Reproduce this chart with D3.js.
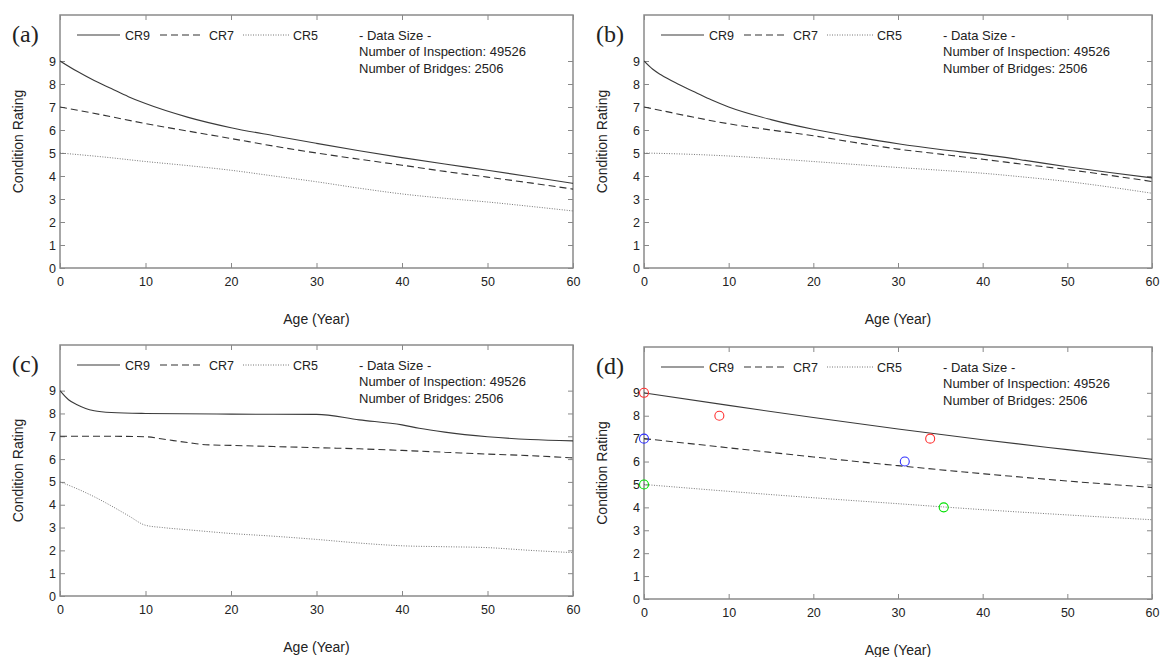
<!DOCTYPE html>
<html>
<head>
<meta charset="utf-8">
<script src="https://cdn.jsdelivr.net/npm/d3@7"></script>
<style>
  html, body { margin: 0; padding: 0; background: #fff; }
  svg { display: block; }
  text { font-family: "Liberation Sans", Arial, sans-serif; fill: #222; }
</style>
</head>
<body>
<svg id="chart" width="1161" height="657"></svg>
<script>
// ---------- Data ----------
const xTicks = [0, 10, 20, 30, 40, 50, 60];
const yTicks = [0, 1, 2, 3, 4, 5, 6, 7, 8, 9];
const seriesNames = ["CR9", "CR7", "CR5"];
const panelLabels = ["(a)", "(b)", "(c)", "(d)"];
const infoLines = ["- Data Size -", "Number of Inspection: 49526", "Number of Bridges: 2506"];

// Panel (a)
const ageA9 = [0, 2, 4, 6, 8, 10, 15, 20, 25, 30, 35, 40, 45, 50, 55, 60];
const crA9  = [9, 8.55, 8.15, 7.8, 7.45, 7.15, 6.55, 6.1, 5.75, 5.42, 5.1, 4.8, 4.52, 4.25, 3.97, 3.68];
const ageA7 = [0, 5, 10, 15, 20, 25, 30, 35, 40, 45, 50, 55, 60];
const crA7  = [7, 6.65, 6.28, 5.95, 5.63, 5.3, 5.0, 4.73, 4.47, 4.2, 3.95, 3.7, 3.43];
const ageA5 = [0, 5, 10, 15, 20, 25, 30, 35, 40, 45, 50, 55, 60];
const crA5  = [5, 4.83, 4.63, 4.45, 4.25, 4.0, 3.75, 3.47, 3.22, 3.03, 2.87, 2.68, 2.48];

// Panel (b)
const ageB9 = [0, 1, 2, 4, 6, 8, 10, 15, 20, 25, 30, 35, 40, 45, 50, 55, 60];
const crB9  = [9, 8.65, 8.4, 8.0, 7.65, 7.3, 7.0, 6.45, 6.03, 5.7, 5.4, 5.15, 4.94, 4.68, 4.4, 4.15, 3.92];
const ageB7 = [0, 2, 5, 10, 15, 20, 25, 30, 35, 40, 45, 50, 55, 60];
const crB7  = [7, 6.85, 6.62, 6.27, 6.0, 5.75, 5.45, 5.17, 4.95, 4.73, 4.5, 4.28, 4.03, 3.76];
const ageB5 = [0, 5, 10, 15, 20, 25, 30, 35, 40, 45, 50, 55, 60];
const crB5  = [5, 4.95, 4.87, 4.76, 4.63, 4.5, 4.37, 4.25, 4.12, 3.95, 3.76, 3.52, 3.25];

// Panel (c)
const ageC9 = [0, 1, 2, 3, 4, 6, 10, 20, 30, 35, 40, 42, 45, 50, 55, 60];
const crC9  = [9, 8.6, 8.38, 8.22, 8.12, 8.04, 8.0, 7.97, 7.96, 7.72, 7.5, 7.35, 7.18, 6.98, 6.86, 6.8];
const ageC7 = [0, 5, 10, 12, 15, 17, 20, 25, 30, 35, 40, 45, 50, 55, 60];
const crC7  = [7, 7, 6.98, 6.88, 6.72, 6.63, 6.6, 6.55, 6.5, 6.45, 6.38, 6.3, 6.22, 6.15, 6.05];
const ageC5 = [0, 2, 4, 6, 8, 10, 12, 15, 20, 25, 30, 35, 40, 45, 50, 55, 60];
const crC5  = [5, 4.7, 4.35, 3.95, 3.52, 3.1, 3.0, 2.9, 2.74, 2.62, 2.48, 2.32, 2.2, 2.16, 2.12, 2.0, 1.9];

// Panel (d)
const ageD  = [0, 10, 20, 30, 40, 50, 60];
const crD9  = [9, 8.45, 7.92, 7.42, 6.95, 6.52, 6.1];
const crD7  = [7, 6.6, 6.2, 5.82, 5.47, 5.15, 4.87];
const crD5  = [5, 4.7, 4.42, 4.16, 3.9, 3.67, 3.46];

// Observed points in panel (d)
const obsAge9 = [0, 8.9, 33.8];
const obsCr9  = [9, 8, 7];
const obsAge7 = [0, 30.8];
const obsCr7  = [7, 6];
const obsAge5 = [0, 35.4];
const obsCr5  = [5, 4];

// ---------- Layout ----------
const panels = [
  { label: panelLabels[0], left: 60,  width: 513, top: 15,  bottom: 268, ages: [ageA9, ageA7, ageA5], vals: [crA9, crA7, crA5] },
  { label: panelLabels[1], left: 644, width: 508, top: 15,  bottom: 268, ages: [ageB9, ageB7, ageB5], vals: [crB9, crB7, crB5] },
  { label: panelLabels[2], left: 60,  width: 513, top: 345, bottom: 596, ages: [ageC9, ageC7, ageC5], vals: [crC9, crC7, crC5] },
  { label: panelLabels[3], left: 644, width: 508, top: 347, bottom: 599, ages: [ageD, ageD, ageD],   vals: [crD9, crD7, crD5],
    obs: [
      { ages: obsAge9, vals: obsCr9, color: "#ff3030" },
      { ages: obsAge7, vals: obsCr7, color: "#3030ff" },
      { ages: obsAge5, vals: obsCr5, color: "#00e000" }
    ] }
];
const lineStyles = [
  { dash: null,  color: "#3a3a3a", width: 1.1 },
  { dash: "7,4", color: "#333", width: 1.1 },
  { dash: "1,1.5", color: "#666", width: 0.9 }
];

const svg = d3.select("#chart");

panels.forEach(p => {
  const plotW = p.width;
  const g = svg.append("g");
  const x = d3.scaleLinear().domain([0, 60]).range([p.left, p.left + plotW]);
  const y = d3.scaleLinear().domain([0, 11]).range([p.bottom, p.top]);

  const clipId = "clip" + p.label.replace(/\W/g, "");
  svg.append("clipPath").attr("id", clipId)
    .append("rect").attr("x", p.left).attr("y", p.top).attr("width", plotW).attr("height", p.bottom - p.top);

  const axB = d3.axisBottom(x).tickValues(xTicks).tickSize(-5).tickPadding(9).tickFormat(d3.format("d"));
  const axT = d3.axisTop(x).tickValues(xTicks).tickSize(-5).tickFormat("");
  const axL = d3.axisLeft(y).tickValues(yTicks).tickSize(-5).tickPadding(4).tickFormat(d3.format("d"));
  const axR = d3.axisRight(y).tickValues(yTicks).tickSize(-5).tickFormat("");

  const gb = g.append("g").attr("transform", `translate(0,${p.bottom})`).call(axB);
  const gt = g.append("g").attr("transform", `translate(0,${p.top})`).call(axT);
  const gl = g.append("g").attr("transform", `translate(${p.left},0)`).call(axL);
  const gr = g.append("g").attr("transform", `translate(${p.left + plotW},0)`).call(axR);
  [gb, gt, gl, gr].forEach(a => {
    a.select(".domain").remove();
    a.selectAll(".tick line").attr("stroke", "#888").attr("stroke-width", 1);
    a.selectAll(".tick text").style("font-size", "12.5px").attr("fill", "#222")
      .style("font-family", '"Liberation Sans", Arial, sans-serif');
  });

  g.append("rect").attr("x", p.left).attr("y", p.top).attr("width", plotW).attr("height", p.bottom - p.top)
    .attr("fill", "none").attr("stroke", "#8a8a8a").attr("stroke-width", 1.5);

  const line = d3.line().x(d => x(d[0])).y(d => y(d[1])).curve(d3.curveMonotoneX);
  p.ages.forEach((ages, i) => {
    const pts = ages.map((a, k) => [a, p.vals[i][k]]);
    const st = lineStyles[i];
    g.append("path").datum(pts).attr("d", line).attr("fill", "none")
      .attr("stroke", st.color).attr("stroke-width", st.width)
      .attr("stroke-dasharray", st.dash)
      .attr("clip-path", `url(#${clipId})`);
  });

  if (p.obs) {
    p.obs.forEach(o => {
      g.selectAll(null).data(o.ages.map((a, k) => [a, o.vals[k]])).enter()
        .append("circle").attr("cx", d => x(d[0])).attr("cy", d => y(d[1])).attr("r", 4.5)
        .attr("fill", "none").attr("stroke", o.color).attr("stroke-width", 1.1);
    });
  }

  const ly = p.top + 20;
  const legX = [[17, 60, 65], [100, 144, 149], [183, 229, 233]];
  legX.forEach((lx, i) => {
    const st = lineStyles[i];
    g.append("line").attr("x1", p.left + lx[0]).attr("x2", p.left + lx[1]).attr("y1", ly).attr("y2", ly)
      .attr("stroke", st.color).attr("stroke-width", st.width).attr("stroke-dasharray", st.dash);
    g.append("text").attr("x", p.left + lx[2]).attr("y", ly + 4.5).style("font-size", "12.5px").text(seriesNames[i]);
  });
  infoLines.forEach((t, i) => {
    g.append("text").attr("x", p.left + 299).attr("y", ly + 4.5 + i * 16.5)
      .style("font-size", "13px").text(t);
  });

  g.append("text").attr("x", p.left - 48).attr("y", p.top + 27)
    .style("font-family", '"Liberation Serif", "Times New Roman", serif').style("font-size", "24px")
    .attr("fill", "#111").text(p.label);

  g.append("text").attr("x", p.left + plotW / 2).attr("y", p.bottom + 56)
    .attr("text-anchor", "middle").style("font-size", "14px").text("Age (Year)");
  g.append("text").attr("transform", `translate(${p.left - 37},${(p.top + p.bottom) / 2}) rotate(-90)`)
    .attr("text-anchor", "middle").style("font-size", "14px").text("Condition Rating");
});
</script>
</body>
</html>
